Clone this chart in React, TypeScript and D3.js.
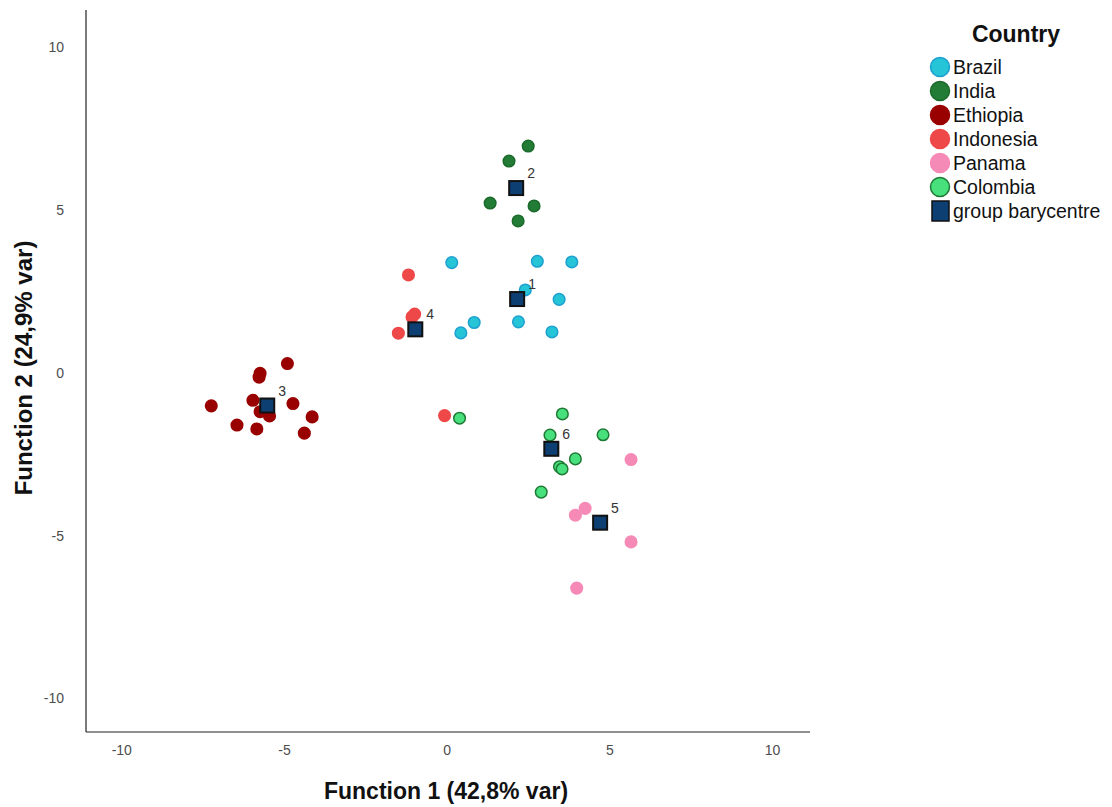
import React from "react";
import * as d3 from "d3";

// Discriminant function scores per sample, grouped by country
const countries = ["Brazil", "India", "Ethiopia", "Indonesia", "Panama", "Colombia"];
const fills = ["#25c4d6", "#237c35", "#990000", "#ee4848", "#f68ab6", "#47e07c"];
const strokes = ["#1ea0d0", "#1b6a2b", "#990000", "#ee4848", "#f68ab6", "#1f7a35"];

const brazilX = [0.14, 2.77, 3.83, 2.40, 3.44, 0.83, 0.42, 2.19, 3.22];
const brazilY = [3.39, 3.43, 3.41, 2.55, 2.26, 1.55, 1.23, 1.57, 1.26];
const indiaX = [2.49, 1.90, 1.32, 2.67, 2.18];
const indiaY = [6.97, 6.51, 5.22, 5.13, 4.67];
const ethiopiaX = [-4.91, -5.75, -5.78, -5.97, -7.25, -4.74, -4.15, -4.39, -6.46, -5.85, -5.75, -5.46];
const ethiopiaY = [0.29, -0.01, -0.13, -0.84, -1.01, -0.94, -1.35, -1.85, -1.60, -1.72, -1.19, -1.32];
const indonesiaX = [-1.19, -1.00, -1.08, -1.50, -0.08];
const indonesiaY = [3.01, 1.81, 1.72, 1.22, -1.31];
const panamaX = [5.65, 4.24, 3.94, 5.65, 3.98];
const panamaY = [-2.66, -4.16, -4.37, -5.19, -6.61];
const colombiaX = [0.38, 3.54, 3.16, 4.79, 3.94, 3.45, 3.53, 2.89];
const colombiaY = [-1.39, -1.26, -1.91, -1.90, -2.64, -2.88, -2.95, -3.66];

// Group barycentres, numbered 1..6
const centreLabels = ["1", "2", "3", "4", "5", "6"];
const centreX = [2.15, 2.12, -5.53, -0.98, 4.70, 3.20];
const centreY = [2.27, 5.68, -1.00, 1.34, -4.60, -2.33];

const xTicks = [-10, -5, 0, 5, 10];
const yTicks = [-10, -5, 0, 5, 10];

const groupsX = [brazilX, indiaX, ethiopiaX, indonesiaX, panamaX, colombiaX];
const groupsY = [brazilY, indiaY, ethiopiaY, indonesiaY, panamaY, colombiaY];

const W = 1112;
const H = 807;
const plotLeft = 86;
const plotRight = 810;
const plotTop = 10;
const plotBottom = 732;

export default function App() {
  const x = d3.scaleLinear().domain([-11.1, 11.15]).range([plotLeft, plotRight]);
  const y = d3.scaleLinear().domain([-11.03, 11.15]).range([plotBottom, plotTop]);
  const font = "'Liberation Sans', Arial, sans-serif";

  const points: { cx: number; cy: number; g: number }[] = [];
  groupsX.forEach((xs, g) => {
    xs.forEach((v, i) => points.push({ cx: x(v), cy: y(groupsY[g][i]), g }));
  });

  const sq = 14;
  const legendX = 940;
  const legendY0 = 67;
  const legendStep = 24;

  return (
    <svg width={W} height={H} style={{ position: "absolute", left: 0, top: 0, background: "#fff" }} fontFamily={font}>
      {/* axes */}
      <line x1={plotLeft} x2={plotLeft} y1={plotTop} y2={plotBottom} stroke="#222" strokeWidth={1.2} />
      <line x1={plotLeft} x2={plotRight} y1={plotBottom} y2={plotBottom} stroke="#222" strokeWidth={1.2} />
      {xTicks.map((t) => (
        <text key={"x" + t} x={x(t)} y={755} textAnchor="middle" fontSize={14} fill="#4d4d4d">{t}</text>
      ))}
      {yTicks.map((t) => (
        <text key={"y" + t} x={64} y={y(t)} dy="0.35em" textAnchor="end" fontSize={14} fill="#4d4d4d">{t}</text>
      ))}
      <text x={446} y={799} textAnchor="middle" fontSize={23} fontWeight="bold" fill="#111">Function 1 (42,8% var)</text>
      <text transform={`translate(32, 368) rotate(-90)`} textAnchor="middle" fontSize={24} fontWeight="bold" fill="#111">Function 2 (24,9% var)</text>

      {/* sample points */}
      {points.map((p, i) => (
        <circle key={i} cx={p.cx} cy={p.cy} r={5.8} fill={fills[p.g]} stroke={strokes[p.g]} strokeWidth={1.5} />
      ))}

      {/* barycentres */}
      {centreX.map((cx, i) => (
        <g key={"c" + i}>
          <rect x={x(cx) - sq / 2} y={y(centreY[i]) - sq / 2} width={sq} height={sq} fill="#0d3f73" stroke="#111" strokeWidth={2} />
          <text x={x(cx) + 11} y={y(centreY[i]) - 10} fontSize={14} fill="#333">{centreLabels[i]}</text>
        </g>
      ))}

      {/* legend */}
      <text x={1016} y={42} textAnchor="middle" fontSize={23} fontWeight="bold" fill="#111">Country</text>
      {countries.map((c, i) => (
        <g key={c}>
          <circle cx={legendX} cy={legendY0 + i * legendStep} r={9.5} fill={fills[i]} stroke={strokes[i]} strokeWidth={1.5} />
          <text x={953} y={legendY0 + i * legendStep} dy="0.36em" fontSize={19.5} fill="#111">{c}</text>
        </g>
      ))}
      <rect x={legendX - 8} y={legendY0 + 6 * legendStep - 10} width={17} height={20} fill="#0d3f73" stroke="#111" strokeWidth={1.5} />
      <text x={953} y={legendY0 + 6 * legendStep} dy="0.36em" fontSize={19.5} fill="#111">group barycentre</text>
    </svg>
  );
}
